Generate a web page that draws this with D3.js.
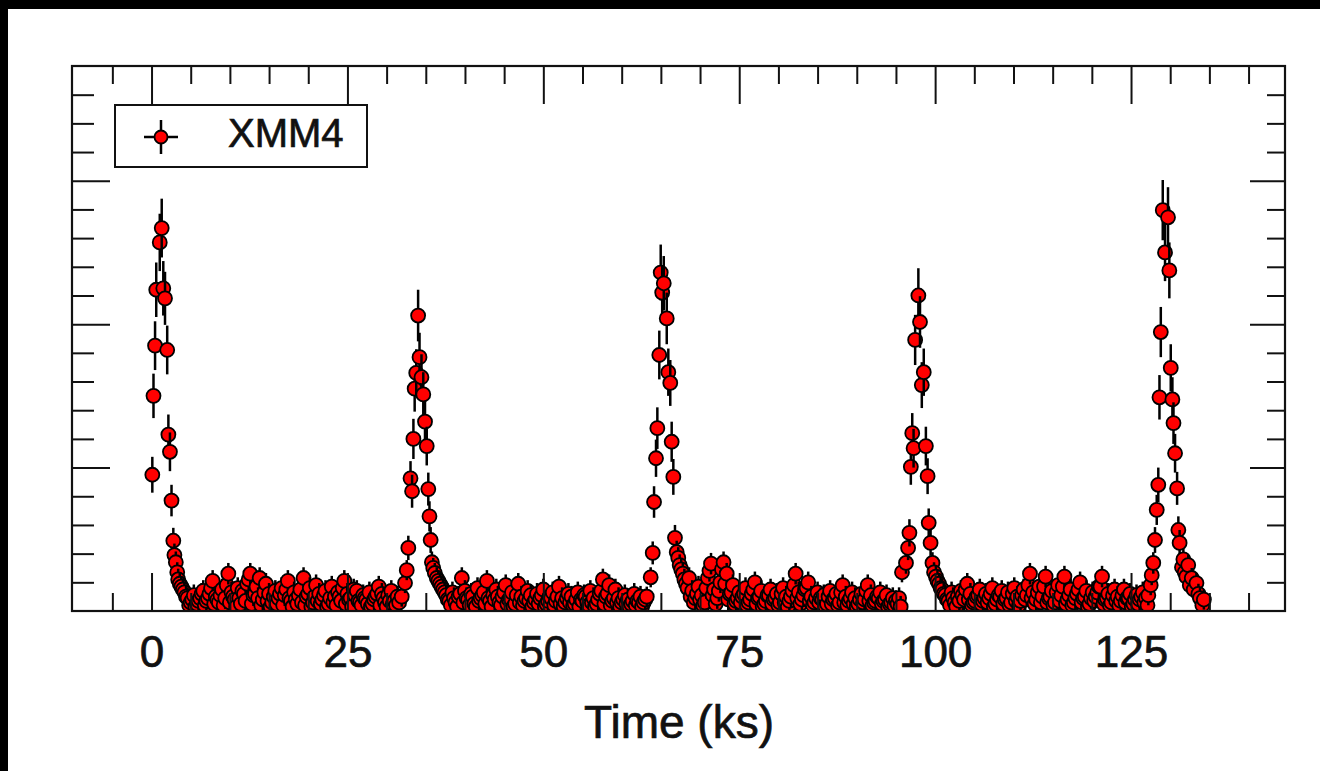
<!DOCTYPE html>
<html>
<head>
<meta charset="utf-8">
<title>XMM4 light curve</title>
<script src="https://cdn.jsdelivr.net/npm/d3@7"></script>
<style>
  body { margin: 0; background: #fff; }
  text { font-family: "Liberation Sans", Arial, Helvetica, sans-serif; fill: #111; stroke: #111; stroke-width: 0.7px; }
</style>
</head>
<body>
<script>
// flares: time (ks), rate, 1-sigma error, read point by point
const flareTime = [
  0.1, 0.25, 0.45, 0.6, 1.05, 1.3, 1.5, 1.72, 2.0, 2.15, 2.35, 2.55, 2.78, 2.92, 3.1, 3.28,
  31.93, 32.35, 32.57, 32.77, 33.05, 33.25, 33.42, 33.58, 33.78, 34.02, 34.2, 34.45, 34.68, 34.9, 35.12, 35.32, 35.47, 35.62, 35.78, 35.95, 36.15,
  63.2, 63.7, 63.96, 64.13, 64.38, 64.55, 64.8, 64.98, 65.17, 65.37, 65.75, 65.95, 66.2, 66.38, 66.59, 66.8, 67.02, 67.22,
  95.77, 96.28, 96.55, 96.72, 96.9, 97.08, 97.25, 97.45, 97.86, 98.07, 98.3, 98.55, 98.82, 99.04, 99.18, 99.42, 99.66, 99.86,
  127.21, 127.51, 127.64, 127.84, 128.06, 128.28, 128.48, 128.63, 128.8, 129.05, 129.34, 129.72, 129.89, 130.07, 130.28, 130.42, 130.62, 130.88, 131.04, 131.2, 131.5, 131.68, 131.85, 132.05, 132.3, 132.5, 132.75, 133.0, 133.35, 133.6, 133.8, 134.1, 134.3
]
const flareRate = [
  9.5, 15.0, 18.5, 22.4, 25.7, 26.7, 22.5, 21.8, 18.2, 12.3, 11.1, 7.7, 4.9, 3.9, 3.4, 2.7,
  1.0, 1.95, 2.85, 4.4, 9.25, 8.35, 12.0, 15.5, 16.6, 20.6, 17.7, 16.3, 15.1, 13.2, 11.5, 8.5, 6.6, 4.95, 3.4, 3.0, 2.65,
  1.0, 2.35, 4.05, 7.6, 10.65, 12.75, 17.85, 23.6, 22.2, 22.85, 20.4, 16.65, 15.9, 11.8, 9.35, 5.1, 4.1, 3.7,
  2.7, 3.35, 4.4, 5.45, 10.05, 12.4, 11.35, 18.9, 22.0, 20.15, 15.75, 16.65, 11.5, 9.4, 6.15, 4.75, 3.35, 2.7,
  1.1, 1.8, 2.5, 3.35, 4.95, 7.05, 8.8, 14.9, 19.45, 27.95, 25.0, 27.45, 23.75, 16.95, 14.75, 13.1, 11.0, 8.55, 5.65, 4.75, 3.05, 3.6, 2.7, 2.4, 3.2, 1.8, 2.3, 1.5, 1.95, 1.2, 0.9, 0.4, 0.8
]
const flareErr = [
  1.25, 1.55, 1.7, 1.9, 2.0, 2.05, 1.9, 1.85, 1.7, 1.4, 1.35, 1.1, 0.9, 0.8, 0.75, 0.7,
  0.7, 0.7, 0.7, 0.85, 1.2, 1.15, 1.4, 1.6, 1.65, 1.8, 1.7, 1.6, 1.55, 1.45, 1.35, 1.15, 1.05, 0.9, 0.75, 0.7, 0.7,
  0.7, 0.7, 0.8, 1.1, 1.3, 1.45, 1.7, 1.95, 1.9, 1.9, 1.8, 1.65, 1.6, 1.4, 1.25, 0.9, 0.8, 0.75,
  0.7, 0.75, 0.85, 0.95, 1.25, 1.4, 1.35, 1.75, 1.9, 1.8, 1.6, 1.65, 1.35, 1.25, 1.0, 0.9, 0.75, 0.7,
  0.7, 0.7, 0.7, 0.75, 0.9, 1.05, 1.2, 1.55, 1.75, 2.1, 2.0, 2.1, 1.95, 1.65, 1.55, 1.45, 1.35, 1.15, 0.95, 0.9, 0.7, 0.75, 0.7, 0.7, 0.7, 0.7, 0.7, 0.7, 0.7, 0.7, 0.7, 0.7, 0.7
]

// quiescent stretches between flares, 0.4 ks bins, plus the bins in between
const quietBin = 0.4
const quietStart = [3.4, 36.4, 67.4, 100.1]
const quietMidStart = [3.6, 36.6, 67.6, 100.3]
const quietErr = 0.75
const quiet1 = [2.2,1.7,1.3,0.9,0.6,1.1,0.5,0.9,1.4,0.7, 1.2,2.1,1.0,0.6,1.5,0.9,2.6,1.3,0.8,1.6,
  0.5,1.2,1.9,2.6,1.1,1.7,2.3,0.8,1.9,1.2, 0.6,1.4,0.9,1.6,1.1,2.1,0.7,1.3,0.5,1.5,
  2.3,1.0,1.6,0.6,1.8,1.2,0.8,1.4,0.5,1.7, 1.0,1.3,0.7,2.1,1.2,0.9,1.5,1.4,0.6,1.1,
  0.8,1.3,0.5,1.0,1.7,1.2,0.6,1.1,1.4,0.7, 1.0]
const quiet1Mid = [1.9,1.5,1.0,0.4,0.8,0.3,0.7,1.2,0.4,0.9, 1.6,0.5,0.8,1.1,0.4,1.8,0.6,1.0,0.3,0.9,
  1.4,0.7,2.2,0.5,1.2,0.9,0.4,1.3,0.7,0.3, 1.0,0.5,1.2,0.4,1.5,0.9,0.3,0.8,1.1,0.6,
  0.4,1.2,0.3,1.0,0.7,0.5,1.1,0.3,0.9,0.6, 0.4,1.0,1.6,0.5,0.8,0.3,1.1,0.7,0.4,0.9,
  0.5,0.3,0.8,1.2,0.4,0.9,0.3,0.7,0.5,0.4, 0.6]
const quiet2 = [2.3,1.9,1.5,1.1,0.7,1.3,0.6,1.0,2.3,1.4, 0.8,1.2,0.5,1.6,0.9,1.3,2.1,0.7,1.1,1.5,
  0.6,1.0,1.8,0.8,1.3,0.5,1.9,1.0,0.7,1.4, 1.1,0.6,1.2,0.9,1.5,0.5,1.0,1.3,0.7,1.7,
  0.9,0.6,1.2,1.0,0.5,1.3,0.8,1.1,0.6,1.4, 0.9,0.5,1.2,2.2,1.0,1.8,0.7,1.5,0.9,0.6,
  1.1,0.8,0.5,1.2,0.7,1.0,0.6]
const quiet2Mid = [2.1,1.7,1.3,0.8,0.4,0.9,0.3,1.2,0.6,0.9, 0.4,1.0,0.3,0.7,1.1,0.5,0.9,0.3,0.8,1.0,
  0.4,1.3,0.5,0.9,0.3,1.1,0.6,0.4,0.9,0.7, 0.3,0.8,0.5,1.1,0.3,0.7,0.9,0.4,1.0,0.5,
  0.3,0.9,0.6,0.4,0.8,0.3,0.7,1.0,0.4,0.6, 0.3,0.8,1.4,0.5,1.2,0.4,0.9,0.6,0.3,0.8,
  0.5,0.3,0.7,0.4,0.6,0.3,0.8]
const quiet3 = [3.2,2.6,1.9,2.3,1.4,0.9,1.7,1.1,0.6,2.3, 3.3,1.5,0.9,2.0,3.4,2.6,1.2,1.8,0.7,1.3,
  1.0,1.6,0.6,1.2,2.0,0.9,1.4,0.5,1.1,1.5, 0.8,1.2,0.6,1.6,1.0,0.7,1.4,2.6,1.3,0.8,
  1.5,2.0,1.0,0.6,1.3,0.9,1.1,0.5,1.4,0.8, 1.2,0.6,1.8,1.0,0.7,1.3,0.9,0.5,1.2,0.8,
  1.8,1.1,0.6,1.0,1.3,0.7,1.1,0.5,0.9,0.7, 0.9]
const quiet3Mid = [2.9,2.2,1.6,1.0,0.6,1.2,0.8,0.4,1.6,2.8, 1.1,0.5,1.4,2.9,1.9,0.8,1.3,0.5,0.9,0.6,
  1.2,0.4,0.8,1.5,0.5,1.0,0.3,0.7,1.1,0.5, 0.9,0.4,1.2,0.6,0.3,1.0,1.8,0.9,0.5,1.1,
  1.6,0.7,0.4,0.9,0.6,0.8,0.3,1.0,0.5,0.9, 0.4,1.3,0.6,0.4,0.9,0.5,0.3,0.8,0.6,1.4,
  0.7,0.4,0.7,0.9,0.5,0.8,0.3,0.6,0.4,0.5, 0.3]
const quiet4 = [2.4,1.9,1.5,1.1,0.7,1.3,0.6,1.0,1.4,0.8, 1.9,1.2,0.6,1.0,1.5,0.7,1.2,0.9,1.6,0.5,
  1.1,1.4,0.8,1.3,0.6,1.6,1.0,0.7,1.5,1.1, 2.6,1.3,0.8,1.7,1.0,2.4,0.9,1.4,0.6,1.8,
  1.1,2.4,0.8,1.5,0.6,1.2,2.0,0.9,1.4,0.5, 1.3,1.0,1.7,2.4,0.8,1.2,0.6,1.5,1.0,0.7,
  1.5,0.9,1.2,0.5,1.1,0.8,1.3,0.9]
const quiet4Mid = [2.1,1.6,1.2,0.8,0.4,0.9,0.3,0.7,1.1,1.5, 0.8,0.4,0.7,1.1,0.5,0.9,0.6,1.2,0.3,0.8,
  1.0,0.5,0.9,0.4,1.2,0.7,0.4,1.1,0.8,1.8, 0.9,0.5,1.3,0.6,1.7,0.6,1.0,0.4,1.3,0.7,
  1.7,0.5,1.1,0.4,0.9,1.5,0.6,1.0,0.3,0.9, 0.7,1.3,1.7,0.5,0.9,0.4,1.1,0.7,0.4,1.1,
  0.6,0.9,0.3,0.8,0.5,1.0,0.6,0.4]

const timeTicks = [0, 25, 50, 75, 100, 125]
const timeMinor = [-5, 5, 10, 15, 20, 30, 35, 40, 45, 55, 60, 65, 70, 80, 85, 90, 95, 105, 110, 115, 120, 130, 135, 140]
const rateTicks = [10, 20, 30]
const rateMinor = [2, 4, 6, 8, 12, 14, 16, 18, 22, 24, 26, 28, 32, 34, 36]

let w = 1320
let h = 771
let plotL = 72, plotR = 1285, plotT = 66, plotB = 611
let dotR = 7

let svg = d3.select("body").append("svg")
            .attr("width", w)
            .attr("height", h)

// dark strips along the top and left edge of the original picture
svg.append("rect").attr("x", 0).attr("y", 0).attr("width", w).attr("height", 9).attr("fill", "#000")
svg.append("rect").attr("x", 0).attr("y", 0).attr("width", 8).attr("height", h).attr("fill", "#000")

let x = d3.scaleLinear().domain([-10.15, 144.65]).range([plotL, plotR])
let y = d3.scaleLinear().domain([0, 38]).range([plotB, plotT])

// merge everything into time order
let points = flareTime.map((t, i) => ({t: t, v: flareRate[i], e: flareErr[i]}))
;[quiet1, quiet2, quiet3, quiet4].forEach((arr, k) => {
    arr.forEach((v, i) => {
        points.push({t: quietStart[k] + i * quietBin, v: v, e: quietErr})
    })
})
;[quiet1Mid, quiet2Mid, quiet3Mid, quiet4Mid].forEach((arr, k) => {
    arr.forEach((v, i) => {
        points.push({t: quietMidStart[k] + i * quietBin, v: v, e: quietErr})
    })
})
points.sort((a, b) => a.t - b.t)

svg.append("clipPath").attr("id", "plot-clip")
   .append("rect")
   .attr("x", plotL).attr("y", plotT)
   .attr("width", plotR - plotL).attr("height", plotB - plotT)

let marks = svg.append("g").attr("clip-path", "url(#plot-clip)")
let pt = marks.selectAll("g.pt")
              .data(points)
              .enter()
              .append("g")
              .attr("class", "pt")
pt.append("line")
  .attr("x1", d => x(d.t))
  .attr("x2", d => x(d.t))
  .attr("y1", d => y(d.v - d.e))
  .attr("y2", d => y(d.v + d.e))
  .attr("stroke", "#000")
  .attr("stroke-width", 2.5)
pt.append("circle")
  .attr("cx", d => x(d.t))
  .attr("cy", d => y(d.v))
  .attr("r", dotR)
  .attr("fill", "#ff0000")
  .attr("stroke", "#000")
  .attr("stroke-width", 1.8)

// axes with inward ticks on all four sides
function styleAxis(g) {
    g.select(".domain").remove()
    g.selectAll(".tick line").attr("stroke", "#111").attr("stroke-width", 2)
}
function addAxis(axis, tx, ty) {
    return svg.append("g")
              .attr("transform", "translate(" + tx + "," + ty + ")")
              .call(axis)
              .call(styleAxis)
}

let xBottom = addAxis(d3.axisBottom(x).tickValues(timeTicks).tickSizeInner(-38).tickSizeOuter(0).tickPadding(25), 0, plotB)
xBottom.attr("font-size", 44).attr("font-family", null)
xBottom.selectAll("text").attr("fill", "#111")
addAxis(d3.axisBottom(x).tickValues(timeMinor).tickSize(-18).tickFormat(""), 0, plotB)
addAxis(d3.axisTop(x).tickValues(timeTicks).tickSize(-38).tickFormat(""), 0, plotT)
addAxis(d3.axisTop(x).tickValues(timeMinor).tickSize(-18).tickFormat(""), 0, plotT)
addAxis(d3.axisLeft(y).tickValues(rateTicks).tickSize(-38).tickFormat(""), plotL, 0)
addAxis(d3.axisLeft(y).tickValues(rateMinor).tickSize(-22).tickFormat(""), plotL, 0)
addAxis(d3.axisRight(y).tickValues(rateTicks).tickSize(-35).tickFormat(""), plotR, 0)
addAxis(d3.axisRight(y).tickValues(rateMinor).tickSize(-18).tickFormat(""), plotR, 0)

svg.append("rect")
   .attr("x", plotL).attr("y", plotT)
   .attr("width", plotR - plotL).attr("height", plotB - plotT)
   .attr("fill", "none")
   .attr("stroke", "#111")
   .attr("stroke-width", 2.2)

svg.append("text")
   .attr("x", 679)
   .attr("y", 738)
   .attr("text-anchor", "middle")
   .attr("font-size", 46)
   .text("Time (ks)")

// legend
let legend = svg.append("g")
legend.append("rect")
      .attr("x", 115).attr("y", 105)
      .attr("width", 252).attr("height", 62)
      .attr("fill", "#fff")
      .attr("stroke", "#111")
      .attr("stroke-width", 2)
legend.append("line").attr("x1", 144).attr("x2", 178).attr("y1", 137).attr("y2", 137)
      .attr("stroke", "#000").attr("stroke-width", 2.5)
legend.append("line").attr("x1", 161).attr("x2", 161).attr("y1", 120).attr("y2", 154)
      .attr("stroke", "#000").attr("stroke-width", 2.5)
legend.append("circle").attr("cx", 161).attr("cy", 137).attr("r", 6.5)
      .attr("fill", "#ff0000").attr("stroke", "#000").attr("stroke-width", 1.8)
legend.append("text")
      .attr("x", 228).attr("y", 147)
      .attr("font-size", 40)
      .text("XMM4")
</script>
</body>
</html>
